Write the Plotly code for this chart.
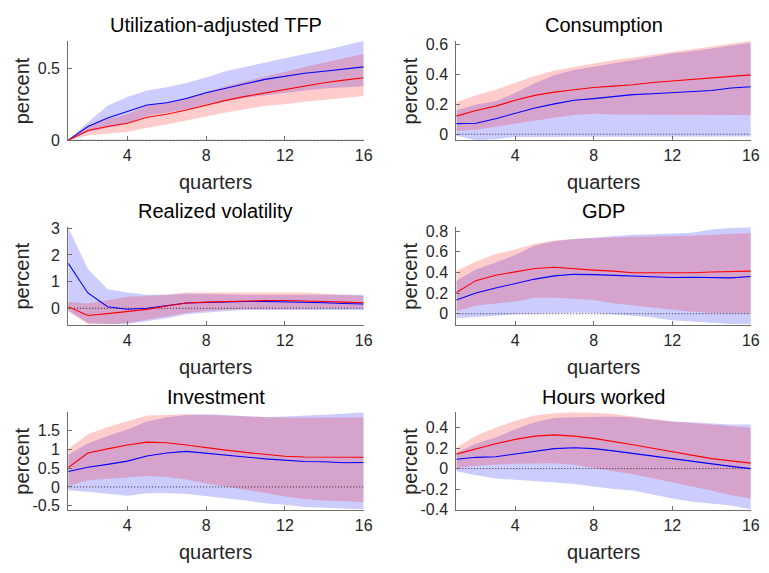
import numpy as np
import plotly.graph_objects as go

quarters = list(range(1, 17))
x_ticks = [4, 8, 12, 16]

titles = ["Utilization-adjusted TFP", "Consumption", "Realized volatility",
          "GDP", "Investment", "Hours worked"]

# ---- Utilization-adjusted TFP ----
tfp_red = [0, 0.068, 0.095, 0.118, 0.16, 0.18, 0.21, 0.245, 0.277, 0.305, 0.33, 0.352, 0.38, 0.40, 0.418, 0.434]
tfp_red_lo = [0, 0.034, 0.045, 0.057, 0.086, 0.109, 0.136, 0.164, 0.193, 0.216, 0.239, 0.25, 0.268, 0.284, 0.295, 0.307]
tfp_red_hi = [0, 0.10, 0.148, 0.18, 0.24, 0.26, 0.295, 0.336, 0.375, 0.41, 0.443, 0.477, 0.51, 0.54, 0.57, 0.60]
tfp_blue = [0, 0.095, 0.155, 0.20, 0.245, 0.26, 0.29, 0.33, 0.364, 0.393, 0.423, 0.445, 0.466, 0.48, 0.495, 0.51]
tfp_blue_lo = [0, 0.057, 0.086, 0.114, 0.17, 0.19, 0.216, 0.25, 0.273, 0.295, 0.314, 0.33, 0.345, 0.36, 0.368, 0.375]
tfp_blue_hi = [0, 0.125, 0.24, 0.30, 0.345, 0.368, 0.398, 0.436, 0.48, 0.51, 0.545, 0.575, 0.60, 0.625, 0.655, 0.69]

# ---- Consumption ----
con_red = [0.121, 0.159, 0.188, 0.227, 0.26, 0.282, 0.298, 0.313, 0.322, 0.331, 0.346, 0.357, 0.364, 0.375, 0.386, 0.397]
con_red_lo = [0.022, 0.03, 0.045, 0.065, 0.09, 0.11, 0.128, 0.137, 0.132, 0.13, 0.128, 0.127, 0.127, 0.128, 0.128, 0.128]
con_red_hi = [0.216, 0.26, 0.298, 0.342, 0.39, 0.426, 0.452, 0.474, 0.496, 0.514, 0.534, 0.551, 0.567, 0.585, 0.607, 0.624]
con_blue = [0.071, 0.073, 0.104, 0.139, 0.176, 0.203, 0.227, 0.238, 0.254, 0.265, 0.271, 0.28, 0.287, 0.293, 0.309, 0.318]
con_blue_lo = [-0.011, -0.04, -0.033, -0.018, -0.015, -0.013, -0.014, -0.015, -0.015, -0.015, -0.016, -0.016, -0.016, -0.016, -0.016, -0.016]
con_blue_hi = [0.159, 0.199, 0.22, 0.276, 0.342, 0.397, 0.43, 0.452, 0.474, 0.496, 0.518, 0.54, 0.556, 0.574, 0.596, 0.613]

# ---- Realized volatility ----
vol_red = [0.06, -0.27, -0.20, -0.12, -0.04, 0.086, 0.196, 0.23, 0.257, 0.28, 0.29, 0.29, 0.28, 0.257, 0.23, 0.21]
vol_red_lo = [-0.12, -0.59, -0.61, -0.55, -0.43, -0.30, -0.18, -0.10, -0.05, -0.025, -0.01, 0.0, 0.0, 0.0, 0.0, 0.0]
vol_red_hi = [0.245, 0.18, 0.30, 0.43, 0.465, 0.51, 0.59, 0.59, 0.60, 0.60, 0.60, 0.60, 0.59, 0.55, 0.51, 0.465]
vol_blue = [1.69, 0.575, 0.06, -0.037, 0.0, 0.10, 0.20, 0.22, 0.245, 0.257, 0.257, 0.245, 0.23, 0.21, 0.18, 0.16]
vol_blue_lo = [-0.08, -0.55, -0.59, -0.59, -0.49, -0.37, -0.22, -0.15, -0.10, -0.06, -0.06, -0.06, -0.06, -0.06, -0.06, -0.06]
vol_blue_hi = [3.04, 1.47, 0.71, 0.59, 0.51, 0.51, 0.55, 0.53, 0.52, 0.51, 0.51, 0.51, 0.51, 0.51, 0.51, 0.51]

# ---- GDP ----
gdp_red = [0.205, 0.32, 0.372, 0.403, 0.437, 0.45, 0.434, 0.422, 0.412, 0.397, 0.397, 0.394, 0.397, 0.403, 0.41, 0.412]
gdp_red_lo = [0.025, 0.08, 0.10, 0.118, 0.155, 0.155, 0.143, 0.133, 0.102, 0.08, 0.062, 0.04, 0.019, 0.006, 0.003, 0.003]
gdp_red_hi = [0.412, 0.505, 0.577, 0.62, 0.676, 0.707, 0.722, 0.732, 0.738, 0.744, 0.747, 0.747, 0.753, 0.763, 0.775, 0.78]
gdp_blue = [0.133, 0.20, 0.248, 0.288, 0.335, 0.366, 0.381, 0.378, 0.372, 0.366, 0.357, 0.35, 0.353, 0.353, 0.347, 0.36]
gdp_blue_lo = [-0.043, -0.031, -0.022, -0.006, 0.0, 0.008, 0.01, 0.007, -0.006, -0.02, -0.037, -0.062, -0.074, -0.084, -0.10, -0.105]
gdp_blue_hi = [0.32, 0.428, 0.496, 0.567, 0.66, 0.70, 0.722, 0.738, 0.753, 0.763, 0.769, 0.775, 0.784, 0.815, 0.83, 0.837]

# ---- Investment ----
inv_red = [0.514, 0.90, 1.01, 1.114, 1.19, 1.174, 1.114, 1.037, 0.977, 0.917, 0.866, 0.814, 0.797, 0.797, 0.797, 0.789]
inv_red_lo = [0.026, 0.18, 0.23, 0.257, 0.29, 0.266, 0.197, 0.094, 0.0, -0.077, -0.163, -0.25, -0.317, -0.36, -0.386, -0.40]
inv_red_hi = [1.01, 1.40, 1.594, 1.74, 1.894, 1.91, 1.93, 1.91, 1.89, 1.86, 1.845, 1.84, 1.84, 1.845, 1.845, 1.85]
inv_blue = [0.41, 0.523, 0.60, 0.686, 0.823, 0.90, 0.943, 0.90, 0.85, 0.797, 0.746, 0.711, 0.677, 0.669, 0.643, 0.651]
inv_blue_lo = [-0.086, -0.13, -0.19, -0.23, -0.17, -0.163, -0.19, -0.25, -0.30, -0.36, -0.43, -0.47, -0.53, -0.557, -0.57, -0.60]
inv_blue_hi = [0.857, 1.157, 1.354, 1.526, 1.74, 1.85, 1.91, 1.93, 1.91, 1.886, 1.85, 1.87, 1.894, 1.91, 1.945, 1.98]

# ---- Hours worked ----
hrs_red = [0.141, 0.195, 0.242, 0.285, 0.317, 0.329, 0.317, 0.295, 0.267, 0.232, 0.198, 0.163, 0.129, 0.097, 0.075, 0.053]
hrs_red_lo = [0.006, 0.028, 0.038, 0.047, 0.053, 0.053, 0.038, 0.006, -0.025, -0.056, -0.097, -0.135, -0.173, -0.213, -0.26, -0.292]
hrs_red_hi = [0.204, 0.32, 0.398, 0.467, 0.518, 0.54, 0.549, 0.546, 0.533, 0.508, 0.483, 0.46, 0.445, 0.43, 0.414, 0.398]
hrs_blue = [0.091, 0.11, 0.116, 0.144, 0.173, 0.195, 0.204, 0.195, 0.173, 0.147, 0.122, 0.097, 0.069, 0.044, 0.022, 0.0]
hrs_blue_lo = [-0.025, -0.066, -0.097, -0.11, -0.119, -0.135, -0.15, -0.173, -0.198, -0.213, -0.254, -0.292, -0.323, -0.345, -0.36, -0.40]
hrs_blue_hi = [0.154, 0.242, 0.304, 0.383, 0.452, 0.493, 0.502, 0.508, 0.508, 0.499, 0.483, 0.46, 0.452, 0.439, 0.43, 0.43]

y_ticks = [
    [0, 0.5],
    [0, 0.2, 0.4, 0.6],
    [0, 1, 2, 3],
    [0, 0.2, 0.4, 0.6, 0.8],
    [-0.5, 0, 0.5, 1, 1.5],
    [-0.4, -0.2, 0, 0.2, 0.4],
]

panels = [
    (tfp_red, tfp_red_lo, tfp_red_hi, tfp_blue, tfp_blue_lo, tfp_blue_hi),
    (con_red, con_red_lo, con_red_hi, con_blue, con_blue_lo, con_blue_hi),
    (vol_red, vol_red_lo, vol_red_hi, vol_blue, vol_blue_lo, vol_blue_hi),
    (gdp_red, gdp_red_lo, gdp_red_hi, gdp_blue, gdp_blue_lo, gdp_blue_hi),
    (inv_red, inv_red_lo, inv_red_hi, inv_blue, inv_blue_lo, inv_blue_hi),
    (hrs_red, hrs_red_lo, hrs_red_hi, hrs_blue, hrs_blue_lo, hrs_blue_hi),
]

W, H = 769, 573
FONT = "Liberation Sans, Arial, Helvetica, sans-serif"
TEXT = "#262626"
AXIS = "#6e6e6e"

# axes boxes in pixels: (left, right) per column, (top, bottom) per row
cols_px = [(69, 368), (461.7, 759.7)]
rows_px = [(35, 137), (226.5, 326.7), (417, 517)]
title_y_px = [19, 210, 401]
xlabel_y_px = [180.5, 370.5, 560.5]
ylabel_x_px = [22, 414.7]

fig = go.Figure()
layout = dict(
    width=W, height=H,
    margin=dict(l=0, r=0, t=0, b=0),
    paper_bgcolor="white", plot_bgcolor="white",
    showlegend=False,
    font=dict(family=FONT, color=TEXT, size=16),
)
annotations = []

for i, (r, rlo, rhi, b, blo, bhi) in enumerate(panels):
    row, col = divmod(i, 2)
    xa = "x" if i == 0 else f"x{i + 1}"
    ya = "y" if i == 0 else f"y{i + 1}"
    q = quarters

    # confidence bands
    fig.add_trace(go.Scatter(x=q + q[::-1], y=bhi + blo[::-1], fill="toself",
                             fillcolor="rgba(0,0,255,0.2)", line=dict(width=0),
                             mode="lines", hoverinfo="skip", xaxis=xa, yaxis=ya))
    fig.add_trace(go.Scatter(x=q + q[::-1], y=rhi + rlo[::-1], fill="toself",
                             fillcolor="rgba(255,0,0,0.2)", line=dict(width=0),
                             mode="lines", hoverinfo="skip", xaxis=xa, yaxis=ya))
    # zero reference
    fig.add_trace(go.Scatter(x=[q[0], q[-1]], y=[0, 0], mode="lines",
                             line=dict(color="black", width=0.8, dash="1px,2px"),
                             xaxis=xa, yaxis=ya))
    # point estimates
    fig.add_trace(go.Scatter(x=q, y=b, mode="lines",
                             line=dict(color="#0000ff", width=1.1),
                             xaxis=xa, yaxis=ya))
    fig.add_trace(go.Scatter(x=q, y=r, mode="lines",
                             line=dict(color="#ff0000", width=1.1),
                             xaxis=xa, yaxis=ya))

    all_vals = np.concatenate([r, rlo, rhi, b, blo, bhi])
    ymin, ymax = float(all_vals.min()), float(all_vals.max())

    left, right = cols_px[col]
    top, bottom = rows_px[row]
    xdom = [left / W, right / W]
    ydom = [1 - bottom / H, 1 - top / H]

    layout[xa.replace("x", "xaxis")] = dict(
        domain=xdom, anchor=ya, range=[1, 16],
        tickmode="array", tickvals=x_ticks, ticktext=[str(t) for t in x_ticks],
        ticks="inside", ticklen=4, tickcolor=AXIS, tickwidth=1,
        showline=True, linecolor=AXIS, linewidth=1,
        showgrid=False, zeroline=False,
        tickfont=dict(size=16, color=TEXT, family=FONT),
        ticklabelstandoff=1,
    )
    layout[ya.replace("y", "yaxis")] = dict(
        domain=ydom, anchor=xa, range=[ymin, ymax],
        tickmode="array", tickvals=y_ticks[i],
        ticktext=[f"{v:g}" for v in y_ticks[i]],
        ticks="inside", ticklen=4, tickcolor=AXIS, tickwidth=1,
        showline=True, linecolor=AXIS, linewidth=1,
        showgrid=False, zeroline=False,
        tickfont=dict(size=16, color=TEXT, family=FONT),
        ticklabelstandoff=4,
    )

    cx = (left + right) / 2 / W
    annotations.append(dict(text=titles[i], x=cx, y=1 - title_y_px[row] / H,
                            xref="paper", yref="paper", showarrow=False,
                            xanchor="center", yanchor="middle",
                            font=dict(size=20, color="black", family=FONT)))
    annotations.append(dict(text="quarters", x=cx, y=1 - xlabel_y_px[row] / H,
                            xref="paper", yref="paper", showarrow=False,
                            xanchor="center", yanchor="middle",
                            font=dict(size=20, color=TEXT, family=FONT)))
    annotations.append(dict(text="percent", x=ylabel_x_px[col] / W,
                            y=1 - (top + bottom) / 2 / H,
                            xref="paper", yref="paper", showarrow=False,
                            textangle=-90, xanchor="center", yanchor="middle",
                            font=dict(size=20, color=TEXT, family=FONT)))

layout["annotations"] = annotations
fig.update_layout(**layout)
fig.write_html("out.html")
